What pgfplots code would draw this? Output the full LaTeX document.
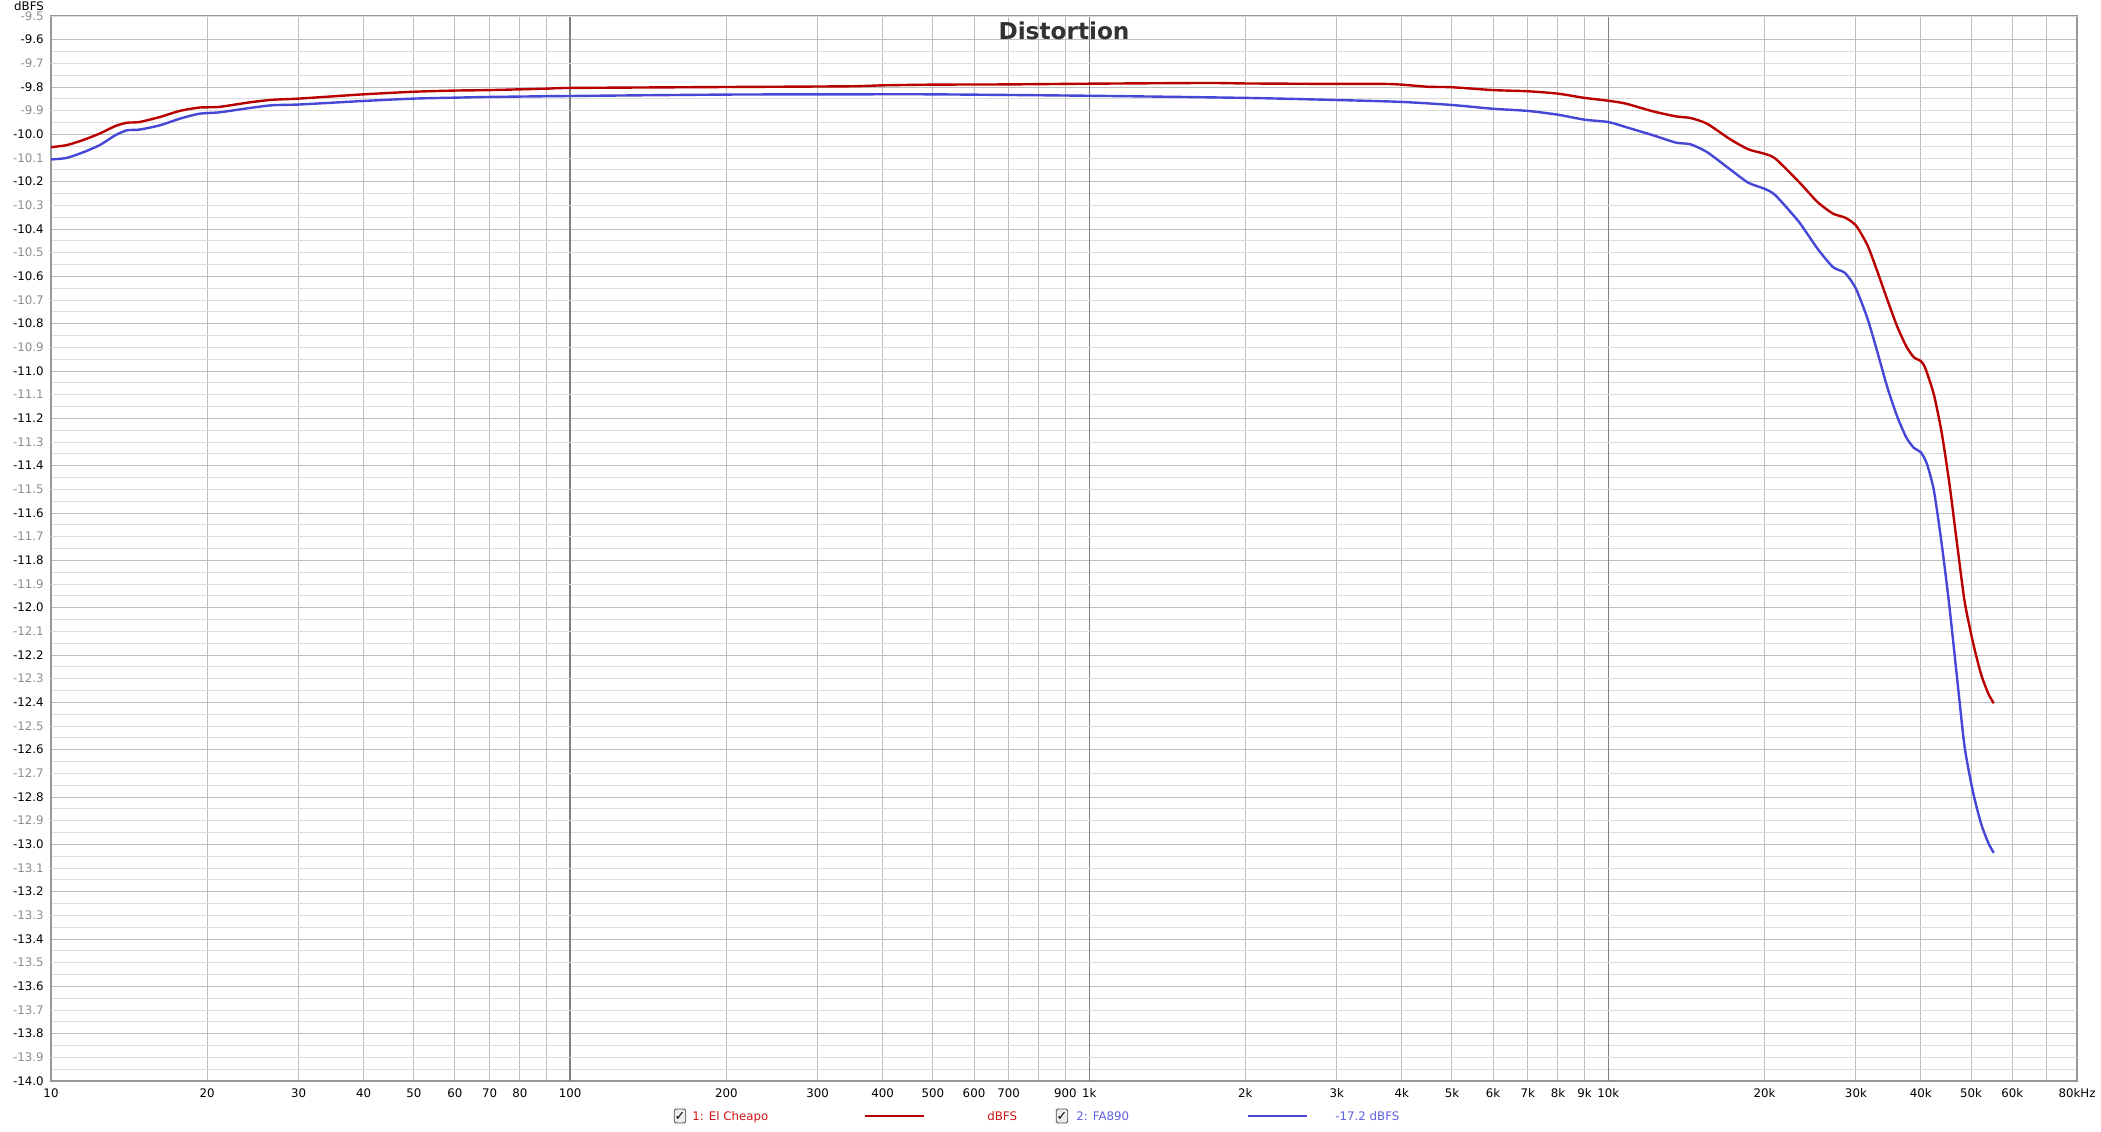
\documentclass[border=0pt]{standalone}
\usepackage{pgfplots}
\pgfplotsset{compat=1.18}
\usepackage{fontspec}
\setmainfont{DejaVu Sans}
\definecolor{redline}{RGB}{185,0,0}
\definecolor{blueline}{RGB}{70,70,215}
\definecolor{redtext}{RGB}{205,20,20}
\definecolor{bluetext}{RGB}{95,95,225}
\definecolor{lbl}{RGB}{140,140,140}
\definecolor{gridlight}{RGB}{220,220,220}
\definecolor{gridmid}{RGB}{190,190,190}
\definecolor{griddark}{RGB}{128,128,128}
\definecolor{framecol}{RGB}{150,150,150}
\definecolor{titlecol}{RGB}{50,50,50}
\newcommand{\tf}{\fontsize{5.9}{7}\selectfont}
\begin{document}
\begin{tikzpicture}
\path[use as bounding box] (-25.5pt,-25pt) rectangle (1025pt,540.5pt);
\begin{axis}[
  at={(0,0)}, anchor=south west,
  scale only axis, width=1013pt, height=532.5pt,
  xmode=log, log basis x=10,
  xmin=10, xmax=80000, ymin=-14, ymax=-9.5,
  axis line style={draw=framecol, line width=0.9pt},
  major tick length=0pt, minor tick length=0pt,
  tick style={draw=none},
  font=\tf,
  xtick={10,20,30,40,50,60,70,80,90,100,200,300,400,500,600,700,800,900,1000,2000,3000,4000,5000,6000,7000,8000,9000,10000,20000,30000,40000,50000,60000,70000,80000},
  xticklabels={10,20,30,40,50,60,70,80,{},100,200,300,400,500,600,700,{},900,1k,2k,3k,4k,5k,6k,7k,8k,9k,10k,20k,30k,40k,50k,60k,{},80kHz},
  xticklabel style={inner sep=0pt, anchor=north, yshift=-3.6pt, text=black},
  ytick={-14,-13.8,-13.6,-13.4,-13.2,-13,-12.8,-12.6,-12.4,-12.2,-12,-11.8,-11.6,-11.4,-11.2,-11,-10.8,-10.6,-10.4,-10.2,-10,-9.8,-9.6},
  yticklabels={-14.0,-13.8,-13.6,-13.4,-13.2,-13.0,-12.8,-12.6,-12.4,-12.2,-12.0,-11.8,-11.6,-11.4,-11.2,-11.0,-10.8,-10.6,-10.4,-10.2,-10.0,-9.8,-9.6},
  yticklabel style={inner sep=0pt, anchor=east, xshift=-3.5pt, text=black},
  extra y ticks={-13.9,-13.7,-13.5,-13.3,-13.1,-12.9,-12.7,-12.5,-12.3,-12.1,-11.9,-11.7,-11.5,-11.3,-11.1,-10.9,-10.7,-10.5,-10.3,-10.1,-9.9,-9.7,-9.5},
  extra y tick labels={-13.9,-13.7,-13.5,-13.3,-13.1,-12.9,-12.7,-12.5,-12.3,-12.1,-11.9,-11.7,-11.5,-11.3,-11.1,-10.9,-10.7,-10.5,-10.3,-10.1,-9.9,-9.7,-9.5},
  extra y tick style={yticklabel style={text=lbl}, major grid style={draw=gridlight, line width=0.5pt}},
  extra x ticks={100,1000,10000},
  extra x tick labels={},
  extra x tick style={major grid style={draw=griddark, line width=0.6pt}},
  minor y tick num=3,
  grid=both,
  major grid style={draw=gridmid, line width=0.5pt},
  minor grid style={draw=gridlight, line width=0.5pt},
  clip=true,
]
\addplot[redline, line width=1.2pt, smooth, tension=0.4] table {
x y
10 -10.054
10.7 -10.046
11.5 -10.025
12.4 -9.997
13.3 -9.965
14 -9.951
14.8 -9.948
16.2 -9.927
17.7 -9.901
19.3 -9.887
21.1 -9.884
24.1 -9.865
26.7 -9.854
30 -9.849
40 -9.831
50 -9.820
60 -9.815
70 -9.813
90 -9.807
100 -9.804
200 -9.800
345 -9.797
400 -9.793
500 -9.790
700 -9.789
1000 -9.786
1690 -9.783
2000 -9.785
3000 -9.787
3700 -9.787
4000 -9.790
4500 -9.799
5000 -9.801
6000 -9.813
7000 -9.818
8000 -9.828
9000 -9.846
10000 -9.858
10800 -9.870
12200 -9.903
13500 -9.924
14400 -9.931
15500 -9.955
17100 -10.018
18600 -10.063
20000 -10.082
21000 -10.103
23300 -10.201
25300 -10.286
27100 -10.335
28600 -10.352
30000 -10.385
31600 -10.470
33000 -10.580
34500 -10.700
36000 -10.810
37500 -10.895
38800 -10.942
40000 -10.958
40800 -10.987
42400 -11.100
43900 -11.262
45400 -11.473
47000 -11.732
48600 -11.975
50500 -12.153
52300 -12.283
54000 -12.364
55300 -12.404
};
\addplot[blueline, line width=1.2pt, smooth, tension=0.4] table {
x y
10 -10.106
10.7 -10.100
11.5 -10.077
12.4 -10.046
13.3 -10.004
14 -9.983
14.8 -9.980
16.2 -9.962
17.7 -9.934
19.3 -9.913
21.1 -9.907
24.1 -9.889
26.7 -9.877
30 -9.874
40 -9.859
50 -9.849
60 -9.845
70 -9.842
100 -9.838
200 -9.832
345 -9.831
500 -9.831
1000 -9.837
2000 -9.846
3000 -9.855
4000 -9.863
5000 -9.876
6000 -9.892
7000 -9.901
8000 -9.917
9000 -9.938
10000 -9.948
10800 -9.969
12200 -10.004
13500 -10.035
14400 -10.042
15500 -10.075
17100 -10.145
18600 -10.204
20000 -10.230
21000 -10.258
23300 -10.370
25300 -10.483
27100 -10.561
28600 -10.586
30000 -10.652
31600 -10.780
33000 -10.920
34500 -11.070
36000 -11.190
37500 -11.280
38800 -11.325
40000 -11.343
41100 -11.392
42400 -11.505
43900 -11.732
45400 -11.991
47000 -12.299
48600 -12.590
50500 -12.785
52300 -12.914
54000 -12.995
55300 -13.036
};
\node[anchor=base, text=titlecol, font=\fontsize{11.6}{13}\selectfont\bfseries] at (rel axis cs:0.5,1) [yshift=-11.5pt] {Distortion};
\end{axis}
\node[anchor=base, font=\tf] at (-11pt,535.2pt) {dBFS};
% legend row
\node[draw=gray!60!black, fill=gray!15, rounded corners=0.8pt, minimum width=5.8pt, minimum height=7pt, inner sep=0pt, font=\fontsize{6.4}{7}\selectfont] at (314.5pt,-17.5pt) {✓};
\node[anchor=base west, inner sep=0pt, text=redtext, font=\tf] at (320.5pt,-19.6pt) {1: El Cheapo};
\draw[redline, line width=1.1pt] (407pt,-17.5pt) -- (436.5pt,-17.5pt);
\node[anchor=base west, inner sep=0pt, text=redtext, font=\tf] at (468pt,-19.6pt) {dBFS};
\node[draw=gray!60!black, fill=gray!15, rounded corners=0.8pt, minimum width=5.8pt, minimum height=7pt, inner sep=0pt, font=\fontsize{6.4}{7}\selectfont] at (505.5pt,-17.5pt) {✓};
\node[anchor=base west, inner sep=0pt, text=bluetext, font=\tf] at (512.5pt,-19.6pt) {2: FA890};
\draw[blueline, line width=1.1pt] (598.5pt,-17.5pt) -- (628pt,-17.5pt);
\node[anchor=base west, inner sep=0pt, text=bluetext, font=\tf] at (642pt,-19.6pt) {-17.2 dBFS};
\end{tikzpicture}
\end{document}
